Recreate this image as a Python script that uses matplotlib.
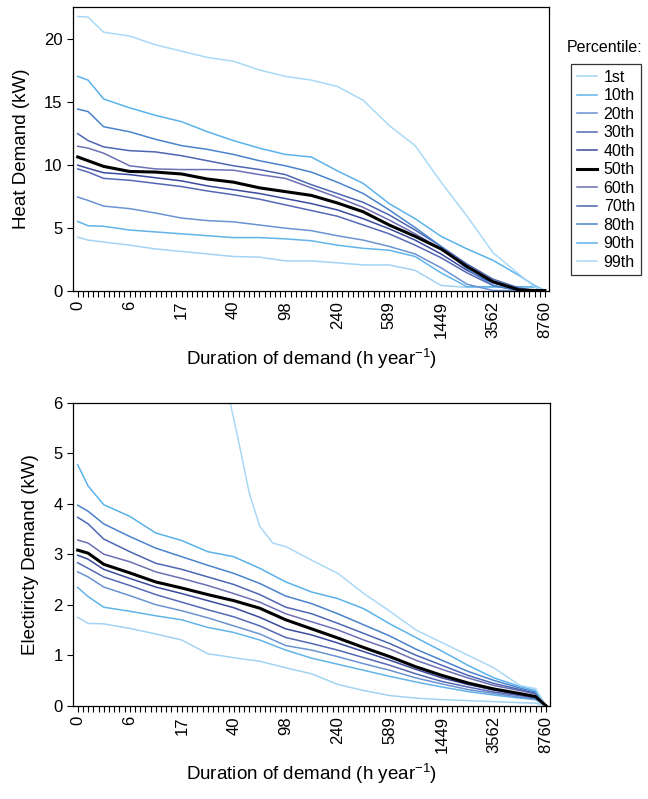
import numpy as np
import matplotlib
matplotlib.use("Agg")
import matplotlib.pyplot as plt
from matplotlib.ticker import FixedLocator, MultipleLocator

plt.rcParams['font.family'] = ['Liberation Sans', 'DejaVu Sans']
plt.rcParams['mathtext.fontset'] = 'custom'
plt.rcParams['mathtext.rm'] = 'Liberation Sans'

# position on the category axis (0..90) of each sampled value
grid_idx = [0, 2, 5, 10, 15, 20, 25, 30, 35, 40, 45, 50, 55, 60, 65, 70, 75, 80, 85, 88, 90]

# hours labels on the category axis, every 10th position
hour_labels = ['0', '6', '17', '40', '98', '240', '589', '1449', '3562', '8760']

percentiles = ['1st', '10th', '20th', '30th', '40th', '50th', '60th', '70th', '80th', '90th', '99th']
colors = ['#a3d3f2', '#62b4e8', '#6a93d2', '#5568b4', '#3b4a9c', '#000000',
          '#6c70b4', '#4c66b2', '#4a83cc', '#5ab2ea', '#a9d9f6']

# heat demand (kW)
heat_01 = [4.23, 4.0, 3.85, 3.6, 3.3, 3.1, 2.9, 2.7, 2.65, 2.35, 2.35, 2.2, 2.03, 2.03, 1.6, 0.4, 0.25, 0.25, 0.25, 0.25, 0.0]
heat_10 = [5.48, 5.14, 5.1, 4.8, 4.65, 4.5, 4.35, 4.2, 4.2, 4.1, 3.95, 3.6, 3.35, 3.2, 2.7, 1.4, 0.3, 0.3, 0.3, 0.3, 0.0]
heat_20 = [7.42, 7.15, 6.7, 6.5, 6.15, 5.75, 5.55, 5.45, 5.2, 4.95, 4.75, 4.35, 4.0, 3.5, 2.9, 1.8, 0.5, 0.0, 0.0, 0.0, 0.0]
heat_30 = [9.65, 9.4, 8.9, 8.75, 8.5, 8.25, 7.9, 7.6, 7.25, 6.8, 6.35, 5.9, 5.2, 4.5, 3.6, 2.6, 1.4, 0.4, 0.0, 0.0, 0.0]
heat_40 = [9.95, 9.7, 9.35, 9.2, 8.95, 8.7, 8.3, 8.0, 7.7, 7.3, 6.9, 6.4, 5.7, 4.9, 4.0, 2.9, 1.6, 0.6, 0.1, 0.0, 0.0]
heat_50 = [10.6, 10.3, 9.85, 9.45, 9.4, 9.25, 8.85, 8.6, 8.15, 7.85, 7.55, 6.95, 6.25, 5.2, 4.3, 3.3, 1.9, 0.7, 0.05, 0.0, 0.0]
heat_60 = [11.45, 11.3, 10.9, 9.9, 9.65, 9.6, 9.6, 9.55, 9.2, 8.9, 8.15, 7.4, 6.6, 5.6, 4.5, 3.3, 1.9, 0.7, 0.1, 0.0, 0.0]
heat_70 = [12.45, 11.9, 11.4, 11.1, 11.0, 10.7, 10.3, 9.9, 9.6, 9.2, 8.4, 7.7, 7.0, 6.0, 4.8, 3.5, 2.1, 0.9, 0.2, 0.0, 0.0]
heat_80 = [14.4, 14.2, 13.0, 12.6, 12.0, 11.5, 11.2, 10.8, 10.3, 9.9, 9.4, 8.6, 7.7, 6.4, 5.0, 3.5, 1.7, 0.4, 0.0, 0.0, 0.0]
heat_90 = [17.0, 16.7, 15.2, 14.5, 13.9, 13.4, 12.6, 11.9, 11.3, 10.8, 10.6, 9.5, 8.5, 6.9, 5.7, 4.3, 3.3, 2.4, 1.2, 0.4, 0.0]
heat_99 = [21.75, 21.7, 20.5, 20.2, 19.5, 19.0, 18.5, 18.2, 17.5, 17.0, 16.7, 16.2, 15.1, 13.1, 11.5, 8.6, 5.9, 3.0, 1.3, 0.3, 0.0]

# electricity demand (kW)
elec_01 = [1.75, 1.63, 1.62, 1.53, 1.42, 1.3, 1.03, 0.95, 0.88, 0.75, 0.63, 0.42, 0.3, 0.2, 0.15, 0.12, 0.1, 0.08, 0.06, 0.05, 0.0]
elec_10 = [2.34, 2.16, 1.95, 1.87, 1.78, 1.7, 1.55, 1.45, 1.3, 1.1, 0.94, 0.82, 0.7, 0.58, 0.47, 0.37, 0.28, 0.21, 0.15, 0.12, 0.0]
elec_20 = [2.65, 2.55, 2.35, 2.18, 2.0, 1.88, 1.74, 1.58, 1.42, 1.19, 1.1, 0.97, 0.83, 0.7, 0.55, 0.43, 0.32, 0.24, 0.17, 0.13, 0.0]
elec_30 = [2.83, 2.72, 2.55, 2.38, 2.2, 2.05, 1.9, 1.76, 1.58, 1.35, 1.23, 1.1, 0.95, 0.8, 0.63, 0.48, 0.37, 0.27, 0.2, 0.15, 0.0]
elec_40 = [2.98, 2.9, 2.7, 2.52, 2.35, 2.22, 2.08, 1.94, 1.75, 1.52, 1.4, 1.24, 1.07, 0.9, 0.72, 0.55, 0.42, 0.31, 0.22, 0.17, 0.0]
elec_50 = [3.08, 3.02, 2.8, 2.63, 2.45, 2.33, 2.2, 2.08, 1.93, 1.7, 1.52, 1.34, 1.15, 0.97, 0.77, 0.6, 0.45, 0.33, 0.24, 0.18, 0.0]
elec_60 = [3.28, 3.22, 3.0, 2.85, 2.65, 2.52, 2.38, 2.22, 2.05, 1.82, 1.66, 1.5, 1.3, 1.12, 0.9, 0.72, 0.55, 0.4, 0.3, 0.23, 0.0]
elec_70 = [3.73, 3.6, 3.3, 3.05, 2.82, 2.7, 2.55, 2.4, 2.2, 1.95, 1.82, 1.63, 1.43, 1.23, 1.0, 0.8, 0.6, 0.44, 0.32, 0.25, 0.0]
elec_80 = [3.97, 3.85, 3.6, 3.35, 3.12, 2.95, 2.78, 2.62, 2.42, 2.17, 2.02, 1.82, 1.6, 1.38, 1.12, 0.9, 0.68, 0.5, 0.35, 0.27, 0.0]
elec_90 = [4.77, 4.35, 3.98, 3.75, 3.42, 3.27, 3.05, 2.95, 2.72, 2.45, 2.25, 2.12, 1.92, 1.62, 1.35, 1.08, 0.8, 0.55, 0.38, 0.3, 0.0]
# the 99th curve leaves the top of the axis, so it has its own positions
elec_99_idx = [24, 27, 29.3, 31, 33, 35, 37.5, 40, 45, 50, 55, 60, 65, 70, 75, 80, 85, 88, 90]
elec_99 = [10.0, 7.5, 6.0, 5.2, 4.2, 3.55, 3.22, 3.15, 2.88, 2.62, 2.22, 1.87, 1.5, 1.25, 1.0, 0.75, 0.4, 0.34, 0.0]

heat_series = [heat_01, heat_10, heat_20, heat_30, heat_40, heat_50,
               heat_60, heat_70, heat_80, heat_90, heat_99]
elec_series = [elec_01, elec_10, elec_20, elec_30, elec_40, elec_50,
               elec_60, elec_70, elec_80, elec_90, elec_99]
elec_idx = [grid_idx] * 10 + [elec_99_idx]

fig = plt.figure(figsize=(6.48, 7.99), dpi=100)
ax1 = fig.add_axes([0.1127, 0.6364, 0.7346, 0.3548])
ax2 = fig.add_axes([0.1127, 0.1168, 0.7362, 0.3792])


def style_axis(ax):
    ax.set_xlim(-0.9, 90.8)
    ax.xaxis.set_major_locator(FixedLocator(np.arange(0, 91, 10)))
    ax.set_xticklabels(hour_labels, rotation=90, fontsize=12)
    ax.xaxis.set_minor_locator(MultipleLocator(1))
    ax.tick_params(axis='x', which='both', direction='out', length=4, width=0.8)
    ax.tick_params(axis='y', direction='out', length=4, width=0.8, labelsize=12)
    for sp in ax.spines.values():
        sp.set_linewidth(0.9)
    ax.set_xlabel('Duration of demand (h year$^{-1}$)', fontsize=13.5, labelpad=6)


handles = []
for k in range(len(percentiles)):
    lw = 2.2 if percentiles[k] == '50th' else 1.1
    z = 5 if percentiles[k] == '50th' else 2
    h, = ax1.plot(grid_idx, heat_series[k], color=colors[k], lw=lw, zorder=z)
    handles.append(h)
    ax2.plot(elec_idx[k], elec_series[k], color=colors[k], lw=lw, zorder=z)

ax1.set_ylim(0, 22.5)
ax1.set_yticks([0, 5, 10, 15, 20])
ax1.set_ylabel('Heat Demand (kW)', fontsize=13.5, labelpad=10)
style_axis(ax1)

ax2.set_ylim(0, 6)
ax2.set_yticks([0, 1, 2, 3, 4, 5, 6])
ax2.set_ylabel('Electiricty Demand (kW)', fontsize=13.5, labelpad=10)
style_axis(ax2)

fig.text(567 / 648, 1 - 47 / 799, 'Percentile:', fontsize=11.5, va='center', ha='left')
leg = fig.legend(handles, percentiles, loc='upper left',
                 bbox_to_anchor=(571 / 648, 1 - 64 / 799), fontsize=11.5,
                 frameon=True, fancybox=False, edgecolor='black',
                 handlelength=1.3, handletextpad=0.4, labelspacing=0.22,
                 borderpad=0.35, borderaxespad=0)
leg.get_frame().set_linewidth(0.9)

fig.savefig('out.png', dpi=100)
